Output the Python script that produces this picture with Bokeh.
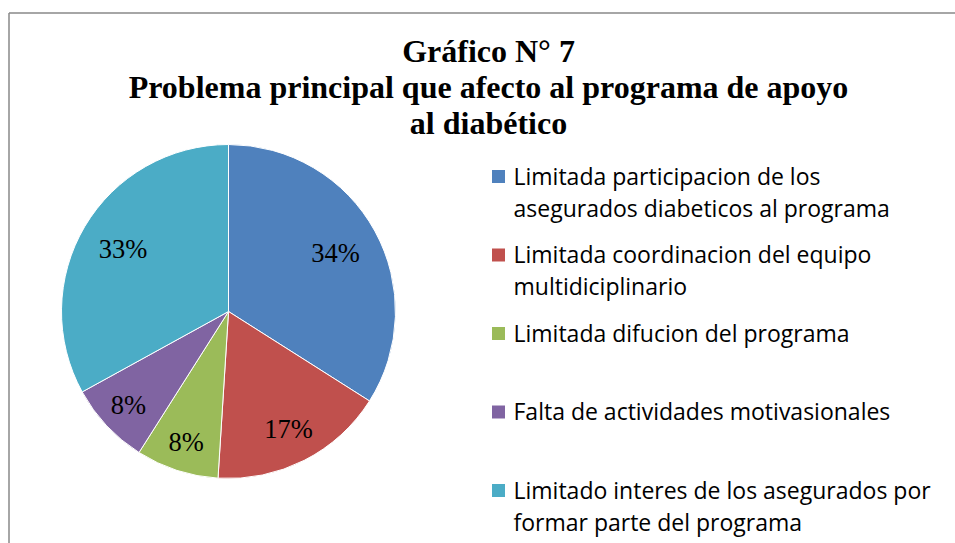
import math
from bokeh.plotting import figure
from bokeh.models import Range1d, ColumnDataSource
from bokeh.core.properties import value
from bokeh.embed import file_html
from bokeh.resources import INLINE

# ---- data ----
categories = [
    "Limitada participacion de los\nasegurados diabeticos al programa",
    "Limitada  coordinacion del equipo\nmultidiciplinario",
    "Limitada  difucion del programa",
    "Falta de actividades motivasionales",
    "Limitado interes de los asegurados por\nformar parte del programa",
]
percents = [34, 17, 8, 8, 33]
pct_labels = ["34%", "17%", "8%", "8%", "33%"]
colors = ["#4F81BD", "#C0504D", "#9BBB59", "#8064A2", "#4BACC6"]
title_lines = ["Gráfico N° 7",
               "Problema principal que afecto al programa de apoyo",
               "al diabético"]

W, H = 955, 543
p = figure(width=W, height=H, output_backend="svg", toolbar_location=None,
           x_range=Range1d(0, W), y_range=Range1d(0, H),
           x_axis_type=None, y_axis_type=None, min_border=0,
           outline_line_color=None)
p.grid.visible = False
p.background_fill_color = "white"

def Y(sy):
    return H - sy

# frame border (left + top)
p.line(x=[8.5, 8.5], y=[Y(12.5), Y(560)], line_color="#888888", line_width=1.5)
p.line(x=[8.5, 960], y=[Y(12.5), Y(12.5)], line_color="#888888", line_width=1.5)

# ---- pie ----
cx, cy, R = 228, Y(311), 167
total = sum(percents)
starts, ends, lx, ly = [], [], [], []
cum = 0.0
for v in percents:
    a0 = math.pi / 2 - 2 * math.pi * cum / total
    cum += v
    a1 = math.pi / 2 - 2 * math.pi * cum / total
    starts.append(a0)
    ends.append(a1)
    mid = (a0 + a1) / 2
    lab_r = R * (0.85 - 0.0035 * 100 * v / total)
    lx.append(cx + lab_r * math.cos(mid))
    ly.append(cy + lab_r * math.sin(mid))

src = ColumnDataSource(dict(start=starts, end=ends, color=colors,
                            lx=lx, ly=ly, lab=pct_labels))
p.wedge(x=cx, y=cy, radius=R, start_angle="start", end_angle="end",
        direction="clock", fill_color="color", line_color="white",
        line_width=1, source=src)
p.text(x="lx", y="ly", text="lab", source=src, text_align="center",
       text_baseline="middle", text_font=value("Liberation Serif"),
       text_font_size="26.5px", text_color="black")

# ---- title ----
tx = 488
for i, t in enumerate(title_lines):
    p.text(x=[tx], y=[Y(50 + 36 * i)], text=[t], text_align="center",
           text_baseline="middle", text_font=value("Liberation Serif"),
           text_font_style="bold", text_font_size="32px", text_color="black")

# ---- legend ----
sq_cx = 498
txt_left = 513
first_mid = 175
step = 78.5
line_gap = 32
sq_x, sq_y, tx_, ty_, tt = [], [], [], [], []
for i, cat in enumerate(categories):
    m = first_mid + step * i
    sq_x.append(sq_cx)
    sq_y.append(Y(m + 1))
    for j, line in enumerate(cat.split("\n")):
        tx_.append(txt_left)
        ty_.append(Y(m + line_gap * j))
        tt.append(line)
p.scatter(x=sq_x, y=sq_y, marker="square", size=13, fill_color=colors,
          line_color=None)
p.text(x=tx_, y=ty_, text=tt, text_align="left",
       text_baseline="middle", text_font=value("Open Sans"),
       text_font_size="23px", text_color="black")

open("out.html", "w").write(file_html(p, INLINE))
